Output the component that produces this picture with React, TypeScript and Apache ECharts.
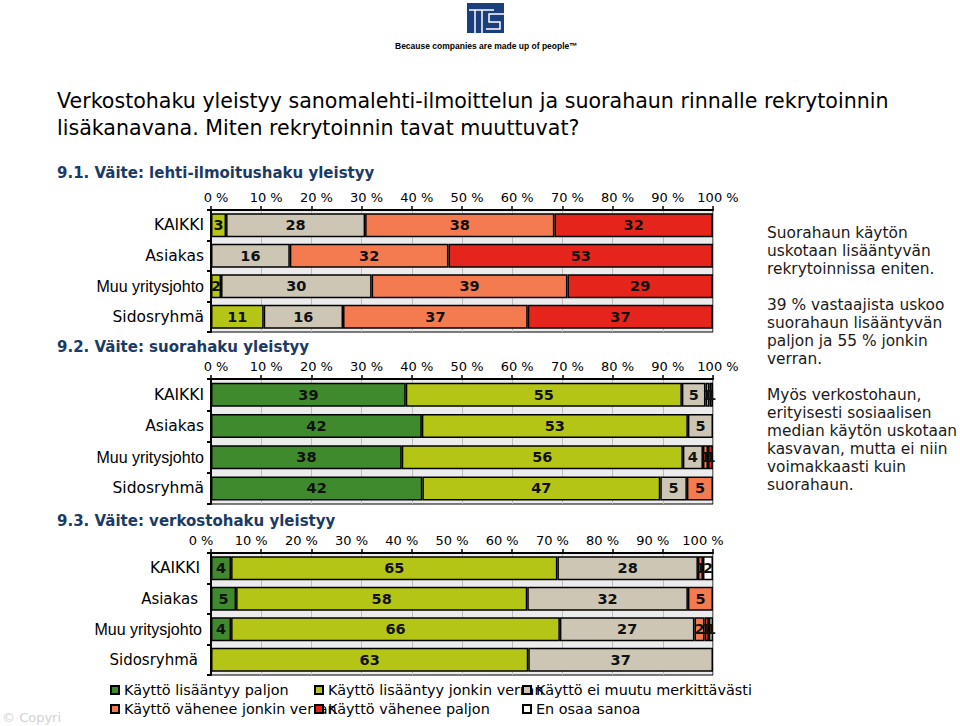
import React, { useEffect, useRef } from 'react';
import * as echarts from 'echarts';

// ---------- data ----------
const categories = ['KAIKKI', 'Asiakas', 'Muu yritysjohto', 'Sidosryhmä'];
const seriesNames = [
  'Käyttö lisääntyy paljon',
  'Käyttö lisääntyy jonkin verran',
  'Käyttö ei muutu merkittävästi',
  'Käyttö vähenee jonkin verran',
  'Käyttö vähenee paljon',
  'En osaa sanoa',
];
const xTickValues = [0, 10, 20, 30, 40, 50, 60, 70, 80, 90, 100];

// 9.1 lehti-ilmoitushaku
const lehtiPaljonLisaa = [0, 0, 0, 0];
const lehtiJonkinLisaa = [3, 0, 2, 10.5];
const lehtiEiMuutu = [27.7, 15.7, 30, 15.8];
const lehtiJonkinVahenee = [37.7, 31.6, 39, 36.8];
const lehtiPaljonVahenee = [31.6, 52.7, 29, 36.9];
const lehtiEos = [0, 0, 0, 0];

// 9.2 suorahaku
const suoraPaljonLisaa = [38.8, 42, 38, 42.1];
const suoraJonkinLisaa = [55, 53, 56, 47.4];
const suoraEiMuutu = [4.7, 5, 4, 5.3];
const suoraJonkinVahenee = [0.8, 0, 1, 5.2];
const suoraPaljonVahenee = [0.7, 0, 1, 0];
const suoraEos = [0, 0, 0, 0];

// 9.3 verkostohaku
const verkostoPaljonLisaa = [4, 5, 4, 0];
const verkostoJonkinLisaa = [65, 58, 65.5, 63.2];
const verkostoEiMuutu = [28, 32, 26.8, 36.8];
const verkostoJonkinVahenee = [1, 5, 2, 0];
const verkostoPaljonVahenee = [0, 0, 0.9, 0];
const verkostoEos = [2, 0, 0.8, 0];

const headings = [
  '9.1. Väite: lehti-ilmoitushaku yleistyy',
  '9.2. Väite: suorahaku yleistyy',
  '9.3. Väite: verkostohaku yleistyy',
];
const titleLines = [
  'Verkostohaku yleistyy sanomalehti-ilmoittelun ja suorahaun rinnalle rekrytoinnin',
  'lisäkanavana. Miten rekrytoinnin tavat muuttuvat?',
];
const sideText = [
  'Suorahaun käytön',
  'uskotaan lisääntyvän',
  'rekrytoinnissa eniten.',
  '',
  '39 % vastaajista uskoo',
  'suorahaun lisääntyvän',
  'paljon ja 55 % jonkin',
  'verran.',
  '',
  'Myös verkostohaun,',
  'erityisesti sosiaalisen',
  'median käytön uskotaan',
  'kasvavan, mutta ei niin',
  'voimakkaasti kuin',
  'suorahaun.',
];

const chartData = [
  [lehtiPaljonLisaa, lehtiJonkinLisaa, lehtiEiMuutu, lehtiJonkinVahenee, lehtiPaljonVahenee, lehtiEos],
  [suoraPaljonLisaa, suoraJonkinLisaa, suoraEiMuutu, suoraJonkinVahenee, suoraPaljonVahenee, suoraEos],
  [verkostoPaljonLisaa, verkostoJonkinLisaa, verkostoEiMuutu, verkostoJonkinVahenee, verkostoPaljonVahenee, verkostoEos],
];

// ---------- styles ----------
const colors = ['#3f8a2c', '#b4c516', '#cdc6b5', '#f47b50', '#e5251b', '#ffffff'];
const FONT = 'DejaVu Sans';
const gridTops = [210, 379, 553];
const gridHeights = [122, 125, 122];
const headingY = [173, 347, 521];

function App() {
  const ref = useRef<HTMLDivElement>(null);
  useEffect(() => {
    if (!ref.current) return;
    const chart = echarts.init(ref.current, undefined, { renderer: 'svg' });

    const grids = gridTops.map((top, i) => ({
      left: 211,
      width: 502,
      top,
      height: gridHeights[i],
      show: true,
      backgroundColor: '#ececec',
      borderColor: '#000',
      borderWidth: 1,
    }));

    const xAxes = gridTops.map((_, i) => ({
      gridIndex: i,
      type: 'value',
      position: 'top',
      min: xTickValues[0],
      max: xTickValues[xTickValues.length - 1],
      interval: 10,
      axisLine: { show: true, lineStyle: { color: '#000', width: 2 } },
      axisTick: { show: true, length: 4, lineStyle: { color: '#000', width: 1.5 } },
      splitLine: { show: true, lineStyle: { color: '#bdbdbd', width: 1 } },
      axisLabel: {
        formatter: '{value} %',
        fontFamily: FONT,
        fontSize: 13,
        color: '#000',
        margin: 6,
        padding: i < 2 ? [0, 0, 0, 10] : [0, 20, 0, 0],
      },
    }));

    const labelRich = (i: number) =>
      i < 2
        ? {
            d: { fontFamily: FONT, fontSize: 15.5, color: '#000' },
            m: { fontFamily: 'Liberation Sans', fontSize: 16, color: '#000' },
            s: { fontFamily: FONT, fontSize: 15.5, color: '#000' },
          }
        : {
            d: { fontFamily: FONT, fontSize: 15.5, color: '#000', padding: [0, 4, 0, 0] },
            m: { fontFamily: 'Liberation Sans', fontSize: 16, color: '#000', padding: [0, 2, 0, 0] },
            s: { fontFamily: FONT, fontSize: 15, color: '#000', padding: [0, 6, 0, 0] },
          };

    const yAxes = gridTops.map((_, i) => ({
      gridIndex: i,
      type: 'category',
      inverse: true,
      data: categories,
      axisLine: { show: true, lineStyle: { color: '#000', width: 2 } },
      axisTick: { show: true, length: 4, lineStyle: { color: '#000', width: 2 } },
      axisLabel: {
        margin: 7,
        formatter: (v: string) =>
          v === 'Muu yritysjohto'
            ? `{m|${v}}`
            : v === 'KAIKKI'
            ? `{d|${v}}`
            : `{s|${v}}`,
        rich: labelRich(i),
      },
    }));

    const series: any[] = [];
    chartData.forEach((set, g) => {
      set.forEach((vals, s) => {
        series.push({
          type: 'bar',
          name: seriesNames[s],
          stack: 'c' + g,
          xAxisIndex: g,
          yAxisIndex: g,
          barWidth: 24,
          data: vals.map((v) => (v === 0 ? null : v)),
          itemStyle: { color: colors[s], borderColor: '#000', borderWidth: 1.5 },
          label: {
            show: true,
            position: 'inside',
            formatter: (p: any) => (p.value ? String(Math.round(p.value)) : ''),
            fontFamily: FONT,
            fontWeight: 'bold',
            fontSize: 14.5,
            color: '#111',
          },
          emphasis: { disabled: true },
        });
      });
    });

    const legendLefts = [110, 314, 522];
    const legendTops = [683, 702];
    const legends = seriesNames.map((name, k) => ({
      data: [name],
      left: legendLefts[k % 3],
      top: legendTops[Math.floor(k / 3)],
      itemWidth: 8,
      itemHeight: 8,
      padding: 0,
      icon: 'rect',
      textStyle: { fontFamily: FONT, fontSize: 14.4, color: '#000' },
    }));

    const graphic: any[] = [
      // logo
      { type: 'rect', shape: { x: 467, y: 3, width: 37, height: 30 }, style: { fill: '#1b3f7d' } },
      { type: 'line', shape: { x1: 469, y1: 10, x2: 494, y2: 10 }, style: { stroke: '#fff', lineWidth: 1.5 } },
      { type: 'line', shape: { x1: 475, y1: 10, x2: 475, y2: 33 }, style: { stroke: '#fff', lineWidth: 1.5 } },
      { type: 'line', shape: { x1: 482, y1: 10, x2: 482, y2: 33 }, style: { stroke: '#fff', lineWidth: 1.5 } },
      {
        type: 'polyline',
        shape: { points: [[504, 14], [489, 14], [489, 22], [500, 22], [500, 29], [486, 29]] },
        style: { stroke: '#fff', lineWidth: 1.5, fill: null },
      },
      {
        type: 'text',
        x: 395,
        y: 46,
        style: {
          text: 'Because companies are made up of people™',
          fontFamily: 'Liberation Sans',
          fontWeight: 'bold',
          fontSize: 8.5,
          fill: '#000',
          verticalAlign: 'middle',
        },
      },
      // title
      ...titleLines.map((t, i) => ({
        type: 'text',
        x: 57,
        y: 101 + i * 27,
        style: { text: t, fontFamily: FONT, fontSize: 20.6, fill: '#000', verticalAlign: 'middle' },
      })),
      // headings
      ...headings.map((t, i) => ({
        type: 'text',
        x: 57,
        y: headingY[i],
        style: {
          text: t,
          fontFamily: FONT,
          fontWeight: 'bold',
          fontSize: 15,
          fill: '#1b3a64',
          verticalAlign: 'middle',
        },
      })),
      // side text
      {
        type: 'text',
        x: 767,
        y: 224,
        style: {
          text: sideText.join('\n'),
          fontFamily: FONT,
          fontSize: 15.4,
          lineHeight: 18,
          fill: '#1a1a1a',
          verticalAlign: 'top',
        },
      },
      // copyright
      {
        type: 'text',
        x: 2,
        y: 717,
        style: { text: '© Copyri', fontFamily: FONT, fontSize: 13, fill: '#d2d2d2', verticalAlign: 'middle' },
      },
    ];

    chart.setOption({
      animation: false,
      backgroundColor: '#ffffff',
      grid: grids,
      xAxis: xAxes,
      yAxis: yAxes,
      legend: legends,
      series,
      graphic,
    });
    return () => chart.dispose();
  }, []);
  return (
    <div
      ref={ref}
      style={{ position: 'fixed', left: 0, top: 0, width: 960, height: 726, background: '#fff' }}
    />
  );
}

export default App;
